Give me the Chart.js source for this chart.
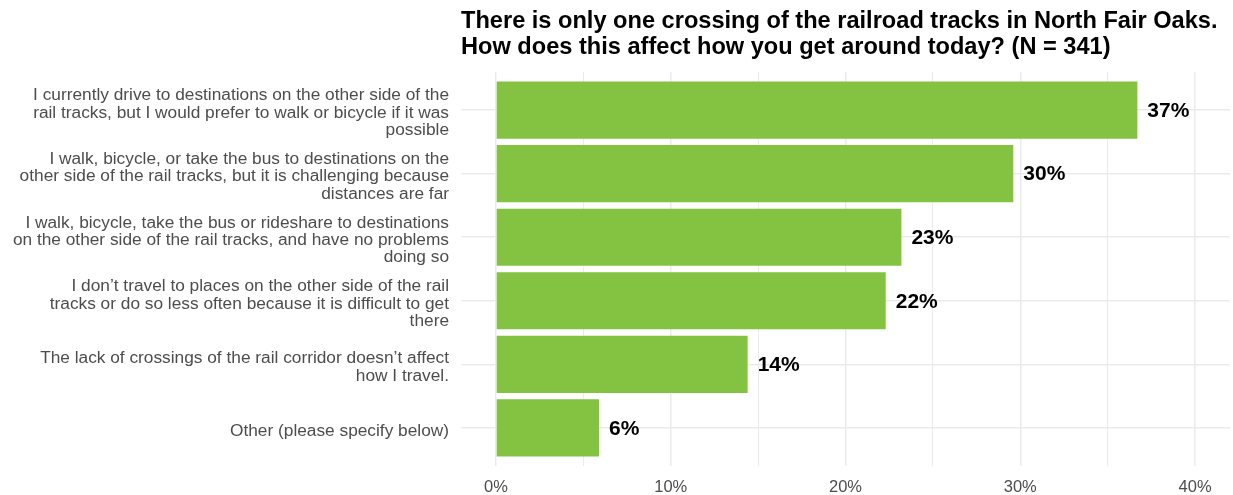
<!DOCTYPE html>
<html><head><meta charset="utf-8">
<script src="https://cdn.jsdelivr.net/npm/chart.js@4"></script>
<style>html,body{margin:0;padding:0;background:#fff}#wrap{width:1233px;height:495px;position:relative}</style>
</head><body><div id="wrap"><canvas id="c"></canvas></div>
<script>
const titleLines = [
  "There is only one crossing of the railroad tracks in North Fair Oaks.",
  "How does this affect how you get around today? (N = 341)"
];
const categories = [
  ["I currently drive to destinations on the other side of the", "rail tracks, but I would prefer to walk or bicycle if it was", "possible"],
  ["I walk, bicycle, or take the bus to destinations on the", "other side of the rail tracks, but it is challenging because", "distances are far"],
  ["I walk, bicycle, take the bus or rideshare to destinations", "on the other side of the rail tracks, and have no problems", "doing so"],
  ["I don\u2019t travel to places on the other side of the rail", "tracks or do so less often because it is difficult to get", "there"],
  ["The lack of crossings of the rail corridor doesn\u2019t affect", "how I travel."],
  ["Other (please specify below)"]
];
const percentValues = [36.7, 29.6, 23.2, 22.3, 14.4, 5.9];
const valueLabels = ["37%", "30%", "23%", "22%", "14%", "6%"];
const xGridValues = [0, 5, 10, 15, 20, 25, 30, 35, 40];
const xTickLabels = {0: "0%", 10: "10%", 20: "20%", 30: "30%", 40: "40%"};

Chart.defaults.font.family = "'Liberation Sans', Arial, sans-serif";

const titlePlugin = {
  id: 'leftTitle',
  afterDraw(chart) {
    const ctx = chart.ctx;
    ctx.save();
    ctx.font = "bold 23.6px 'Liberation Sans', Arial, sans-serif";
    ctx.fillStyle = '#000';
    ctx.textAlign = 'left';
    ctx.textBaseline = 'alphabetic';
    ctx.fillText(titleLines[0], chart.chartArea.left, 28);
    ctx.fillText(titleLines[1], chart.chartArea.left, 54);
    ctx.restore();
  }
};
const valuePlugin = {
  id: 'valueLabels',
  afterDatasetsDraw(chart) {
    const ctx = chart.ctx;
    const meta = chart.getDatasetMeta(0);
    ctx.save();
    ctx.font = "bold 21px 'Liberation Sans', Arial, sans-serif";
    ctx.fillStyle = '#000';
    ctx.textAlign = 'left';
    ctx.textBaseline = 'middle';
    meta.data.forEach((el, i) => {
      ctx.fillText(valueLabels[i], el.x + 10, el.y + 1);
    });
    ctx.restore();
  }
};

new Chart(document.getElementById('c'), {
  type: 'bar',
  data: {
    datasets: [{
      data: percentValues.map((v, i) => ({x: v, y: i})),
      backgroundColor: '#83c341',
      borderWidth: 0,
      categoryPercentage: 1,
      barPercentage: 0.9
    }]
  },
  options: {
    indexAxis: 'y',
    responsive: true,
    maintainAspectRatio: false,
    animation: false,
    layout: {padding: {top: 72, right: 3, bottom: 0, left: 0}},
    plugins: {legend: {display: false}, tooltip: {enabled: false}, title: {display: false}},
    scales: {
      x: {
        type: 'linear',
        position: 'bottom',
        min: -2, max: 42,
        offset: false,
        afterBuildTicks(s) { s.ticks = xGridValues.map(v => ({value: v})); },
        afterFit(s) { s.height = 29; s.paddingLeft = 0; s.paddingRight = 0; },
        border: {display: false},
        grid: {
          color: '#ebebeb',
          drawTicks: false,
          offset: false,
          lineWidth: (c) => (c.tick && c.tick.value % 10 === 0) ? 1.5 : 1
        },
        ticks: {
          autoSkip: false, maxRotation: 0, padding: 12,
          color: '#4d4d4d',
          font: {size: 16.5},
          callback: (v) => xTickLabels[v] !== undefined ? xTickLabels[v] : ''
        }
      },
      y: {
        type: 'linear',
        reverse: true,
        offset: false,
        min: -0.6, max: 5.6,
        afterBuildTicks(s) { s.ticks = categories.map((c, i) => ({value: i})); },
        afterFit(s) { s.width = 461; s.paddingTop = 0; s.paddingBottom = 0; },
        border: {display: false},
        grid: {color: '#ebebeb', lineWidth: 1.5, drawTicks: false, offset: false},
        ticks: {
          autoSkip: false, padding: 12, labelOffset: 3,
          color: '#4d4d4d',
          font: {size: 17.3, lineHeight: 1.01},
          callback: (v) => categories[v]
        }
      }
    }
  },
  plugins: [titlePlugin, valuePlugin]
});
</script></body></html>
